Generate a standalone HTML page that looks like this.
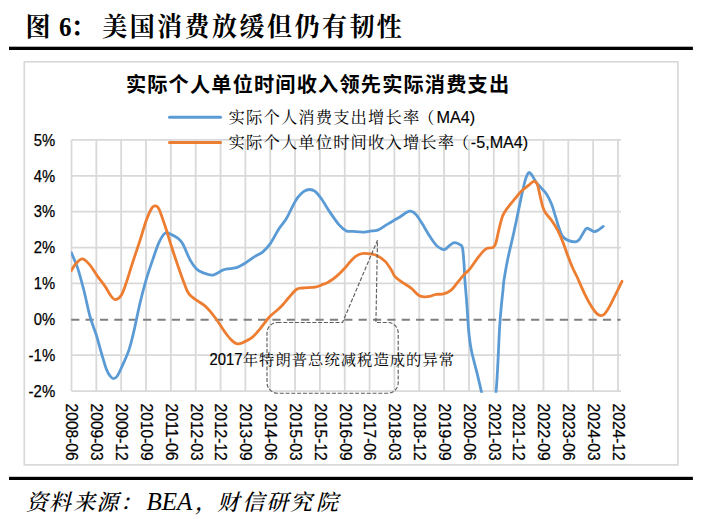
<!DOCTYPE html>
<html lang="zh-CN"><head><meta charset="utf-8"><title>图 6: 美国消费放缓但仍有韧性</title>
<style>
html,body{margin:0;padding:0;background:#fff;}
body{width:703px;height:519px;overflow:hidden;}
svg{display:block;}
.lat{font-family:"Liberation Sans",sans-serif;}
.song{font-family:"Liberation Sans","Noto Serif CJK SC",serif;}
.hei{font-family:"Liberation Sans","Noto Sans CJK SC",sans-serif;font-weight:bold;}
.kaiB{font-family:"Liberation Serif","Noto Serif CJK SC",serif;font-weight:bold;}
.kaiI{font-family:"Liberation Serif","Noto Serif CJK SC",serif;font-style:italic;font-weight:500;}
</style></head><body>
<svg width="703" height="519" viewBox="0 0 703 519">
<rect x="0" y="0" width="703" height="519" fill="#ffffff"/>
<text class="kaiB" y="35.7" font-size="25" fill="#000" transform="translate(0,35.7) scale(1,1.06) translate(0,-35.7)"><tspan x="25.5">图</tspan><tspan x="59.0">6</tspan><tspan x="70.4">：</tspan><tspan x="102.2 129.7 157.1 184.6 212.1 239.5 267.0 294.5 321.9 349.4 376.8">美国消费放缓但仍有韧性</tspan></text>
<rect x="9" y="46.7" width="683.9" height="3.3" fill="#000"/>
<rect x="9" y="476.8" width="683.9" height="3.2" fill="#000"/>
<rect x="24.3" y="61.8" width="653.6" height="403.1" fill="#fff" stroke="#d9d9d9" stroke-width="1.7"/>
<path d="M71.50,139.9 V391.1 M96.34,139.9 V391.1 M121.18,139.9 V391.1 M146.02,139.9 V391.1 M170.86,139.9 V391.1 M195.70,139.9 V391.1 M220.54,139.9 V391.1 M245.38,139.9 V391.1 M270.22,139.9 V391.1 M295.06,139.9 V391.1 M319.90,139.9 V391.1 M344.74,139.9 V391.1 M369.58,139.9 V391.1 M394.42,139.9 V391.1 M419.26,139.9 V391.1 M444.10,139.9 V391.1 M468.94,139.9 V391.1 M493.78,139.9 V391.1 M518.62,139.9 V391.1 M543.46,139.9 V391.1 M568.30,139.9 V391.1 M593.14,139.9 V391.1 M617.98,139.9 V391.1 M71.5,139.90 H621.0 M71.5,175.78 H621.0 M71.5,211.66 H621.0 M71.5,247.54 H621.0 M71.5,283.42 H621.0 M71.5,355.18 H621.0 M71.5,391.06 H621.0" fill="none" stroke="#d9d9d9" stroke-width="1.8"/>
<path d="M71.2,319.65 H620.6" fill="none" stroke="#7f7f7f" stroke-width="2" stroke-dasharray="8.2 6.17"/>
<text class="hei"  x="125.9" y="92" font-size="20.2" fill="#000" textLength="383.2" lengthAdjust="spacing">实际个人单位时间收入领先实际消费支出</text>
<defs><clipPath id="pc"><rect x="71.1" y="137.9" width="555.5" height="254.8"/></clipPath></defs>
<g clip-path="url(#pc)" fill="none" stroke-width="2.8" stroke-linecap="round" stroke-linejoin="round">
<path d="M71.3,252.6 C72.3,255.1 75.4,261.4 77.5,267.6 C79.6,273.8 81.7,281.9 83.8,290.0 C85.9,298.1 87.9,309.0 90.0,316.5 C92.1,324.0 94.4,329.0 96.3,335.0 C98.2,341.0 99.6,347.0 101.3,352.6 C103.0,358.2 104.8,365.0 106.3,368.9 C107.8,372.8 108.9,374.4 110.1,376.0 C111.3,377.6 112.3,378.6 113.5,378.6 C114.7,378.6 115.8,378.2 117.3,376.0 C118.8,373.8 120.7,369.4 122.6,365.1 C124.5,360.8 127.0,355.7 128.9,350.1 C130.8,344.5 132.5,337.3 133.9,331.3 C135.3,325.3 136.4,319.4 137.6,314.0 C138.8,308.6 139.5,304.9 141.0,299.0 C142.5,293.1 144.5,285.4 146.4,278.9 C148.3,272.4 150.5,266.2 152.6,260.1 C154.7,254.1 156.8,247.1 158.9,242.6 C161.0,238.1 163.1,234.4 165.2,233.1 C167.3,231.8 169.3,233.8 171.4,234.6 C173.5,235.4 175.8,236.6 177.7,238.1 C179.6,239.6 180.6,240.1 182.7,243.8 C184.8,247.5 187.9,255.9 190.2,260.1 C192.5,264.3 194.4,266.8 196.5,268.9 C198.6,271.0 200.0,271.6 202.7,272.6 C205.4,273.6 209.4,275.5 212.7,275.1 C216.0,274.7 220.2,271.1 222.7,270.1 C225.2,269.1 225.2,269.3 227.5,268.9 C229.8,268.5 233.4,268.6 236.3,267.7 C239.2,266.8 241.9,265.1 245.0,263.2 C248.1,261.3 252.1,258.2 255.0,256.4 C257.9,254.5 260.1,254.2 262.6,252.1 C265.1,250.0 267.4,247.8 270.1,243.9 C272.8,240.0 276.1,233.1 278.8,228.9 C281.5,224.7 284.0,222.6 286.3,218.8 C288.6,215.0 290.7,209.8 292.6,206.3 C294.5,202.8 295.7,200.1 297.6,197.6 C299.5,195.1 301.9,192.7 303.9,191.3 C305.9,190.0 307.7,189.5 309.6,189.5 C311.5,189.5 313.1,189.8 315.1,191.3 C317.1,192.9 318.9,195.2 321.4,198.8 C323.9,202.4 327.3,208.3 330.2,212.6 C333.1,216.9 336.2,221.5 338.9,224.6 C341.6,227.7 344.1,229.8 346.4,230.9 C348.7,232.0 350.0,231.2 352.7,231.4 C355.4,231.6 359.8,232.2 362.7,232.1 C365.6,232.0 367.7,231.4 370.2,231.1 C372.7,230.8 375.2,231.0 377.7,230.1 C380.2,229.2 383.4,226.7 385.2,225.6 C387.0,224.5 386.3,224.9 388.5,223.6 C390.7,222.3 395.4,219.7 398.5,217.8 C401.6,215.9 405.1,213.1 407.3,212.0 C409.5,210.9 410.1,210.9 411.6,211.3 C413.1,211.7 414.3,212.5 416.1,214.6 C417.9,216.7 420.0,220.2 422.3,223.8 C424.6,227.4 427.5,232.8 429.8,236.3 C432.1,239.9 434.1,243.0 436.1,245.1 C438.1,247.2 440.1,248.2 441.6,248.9 C443.1,249.6 443.7,249.8 444.9,249.4 C446.1,249.0 447.4,247.3 448.6,246.3 C449.9,245.3 451.3,244.0 452.4,243.4 C453.5,242.8 453.8,242.4 455.0,242.6 C456.2,242.8 458.3,243.6 459.5,244.4 C460.7,245.2 461.7,244.7 462.4,247.6 C463.1,250.5 463.5,256.6 463.9,262.0 C464.3,267.4 464.5,274.5 464.9,280.2 C465.3,285.9 465.8,290.7 466.2,296.0 C466.6,301.3 467.0,306.3 467.4,312.0 C467.8,317.7 468.0,323.6 468.6,330.0 C469.2,336.4 470.0,343.4 471.3,350.1 C472.6,356.8 474.9,364.5 476.3,370.1 C477.7,375.7 478.7,380.1 479.6,383.9 C480.5,387.7 480.8,388.7 481.6,392.7 C482.4,396.7 483.3,400.1 484.5,408.0 C485.7,415.9 487.3,440.0 488.8,440.0 C490.3,440.0 492.3,415.9 493.5,408.0 C494.7,400.1 495.3,397.8 495.9,392.7 C496.5,387.6 496.7,384.3 497.1,377.6 C497.5,370.9 498.0,360.9 498.4,352.6 C498.8,344.3 499.1,335.5 499.6,327.6 C500.1,319.7 500.8,311.3 501.4,305.0 C502.0,298.7 502.6,294.2 503.0,290.0 C503.4,285.8 503.2,285.0 504.0,280.0 C504.8,275.0 505.9,268.1 507.5,260.2 C509.1,252.3 511.7,242.2 513.8,232.6 C515.9,223.0 518.3,210.9 520.1,202.6 C521.9,194.2 523.4,187.1 524.6,182.5 C525.8,177.9 526.3,176.7 527.1,175.0 C527.9,173.3 528.5,172.5 529.3,172.5 C530.1,172.5 530.6,173.3 531.8,175.0 C533.0,176.7 534.7,180.3 536.3,182.5 C537.9,184.7 539.6,186.2 541.3,188.1 C543.0,190.0 544.6,191.2 546.3,193.8 C548.0,196.4 549.9,200.2 551.4,203.8 C552.9,207.4 553.9,211.1 555.1,215.1 C556.4,219.1 557.6,224.0 558.9,227.6 C560.1,231.2 561.1,234.3 562.6,236.4 C564.1,238.5 565.5,239.2 567.6,240.1 C569.7,241.0 573.2,241.9 575.1,241.9 C577.0,241.9 577.6,241.4 578.9,240.1 C580.2,238.8 581.5,235.8 582.7,233.9 C584.0,232.0 585.1,229.1 586.4,228.4 C587.6,227.7 588.9,229.1 590.2,229.6 C591.5,230.1 593.0,231.6 594.4,231.6 C595.8,231.6 597.4,230.5 598.9,229.6 C600.4,228.7 602.5,226.9 603.2,226.4" stroke="#5b9bd5"/>
<path d="M71.3,270.6 C72.1,269.4 74.1,265.4 76.0,263.5 C77.9,261.6 80.2,258.6 82.5,258.9 C84.8,259.2 87.5,262.2 90.0,265.1 C92.5,268.0 95.1,272.8 97.6,276.4 C100.1,279.9 102.8,283.1 105.1,286.4 C107.4,289.7 109.5,294.2 111.3,296.4 C113.0,298.6 113.9,299.8 115.6,299.6 C117.3,299.4 119.5,298.0 121.3,295.2 C123.1,292.4 124.4,288.0 126.3,282.6 C128.2,277.2 130.3,269.7 132.6,262.6 C134.9,255.5 137.8,247.2 140.1,240.1 C142.4,233.0 144.5,225.2 146.4,220.0 C148.3,214.8 150.0,211.2 151.4,208.8 C152.8,206.4 153.8,205.8 155.1,205.8 C156.3,205.8 157.2,205.4 158.9,208.8 C160.6,212.2 163.1,220.1 165.2,226.3 C167.3,232.6 169.3,239.8 171.4,246.3 C173.5,252.8 175.6,259.1 177.7,265.1 C179.8,271.2 182.0,277.8 183.9,282.6 C185.8,287.4 186.8,291.0 188.9,293.9 C191.0,296.8 194.0,298.3 196.5,300.2 C199.0,302.1 201.7,303.3 204.0,305.2 C206.3,307.1 207.9,308.7 210.2,311.4 C212.5,314.1 215.2,317.8 217.7,321.3 C220.2,324.8 223.0,329.5 225.3,332.6 C227.6,335.7 229.4,338.2 231.5,340.1 C233.6,342.0 235.5,343.6 237.6,343.9 C239.7,344.2 241.3,343.2 243.8,342.1 C246.3,341.0 249.9,339.3 252.6,337.1 C255.3,334.9 257.2,332.3 260.1,328.8 C263.0,325.3 266.8,319.8 270.1,316.3 C273.4,312.8 277.0,310.7 280.1,307.6 C283.2,304.5 286.2,300.5 288.9,297.5 C291.6,294.5 294.1,291.1 296.4,289.5 C298.7,287.9 299.6,288.4 302.7,288.0 C305.8,287.6 311.8,287.7 315.1,287.1 C318.4,286.5 320.6,285.2 322.7,284.4 C324.8,283.6 325.4,283.8 327.7,282.5 C330.0,281.2 333.5,278.9 336.4,276.4 C339.3,273.9 342.5,270.6 345.2,267.7 C347.9,264.8 350.4,261.1 352.7,258.9 C355.0,256.7 357.1,255.5 359.0,254.6 C360.9,253.7 362.1,253.5 364.0,253.4 C365.9,253.3 367.9,253.5 370.2,253.9 C372.5,254.3 375.2,254.7 377.7,255.9 C380.2,257.1 382.9,259.0 385.2,261.4 C387.5,263.8 389.9,267.7 391.5,270.2 C393.1,272.7 393.2,274.5 394.8,276.4 C396.4,278.3 398.3,279.4 401.0,281.4 C403.7,283.4 408.2,285.9 411.1,288.2 C414.0,290.5 416.3,293.8 418.6,295.2 C420.9,296.6 422.9,296.7 424.8,296.9 C426.7,297.1 427.9,296.8 429.8,296.4 C431.7,296.0 433.8,294.8 436.1,294.4 C438.4,294.0 441.1,294.6 443.6,293.9 C446.1,293.2 448.8,292.1 451.1,290.2 C453.4,288.3 455.3,285.2 457.4,282.7 C459.5,280.2 461.5,277.4 463.6,275.1 C465.7,272.8 467.8,271.4 469.9,268.9 C472.0,266.4 474.1,262.9 476.2,260.1 C478.3,257.3 480.5,254.1 482.4,252.1 C484.3,250.1 485.6,249.1 487.4,248.3 C489.2,247.5 491.9,248.3 493.3,247.3 C494.7,246.3 495.1,245.4 496.0,242.5 C496.9,239.6 497.7,234.5 498.8,230.1 C499.9,225.7 501.2,219.7 502.5,216.3 C503.8,212.9 504.4,212.3 506.3,209.6 C508.2,206.9 511.3,203.1 513.8,200.1 C516.3,197.1 518.8,193.8 521.3,191.3 C523.8,188.8 526.7,186.8 528.8,185.1 C530.9,183.4 532.4,181.5 533.8,181.3 C535.2,181.1 536.1,181.9 537.1,184.0 C538.1,186.1 538.7,190.1 539.6,193.8 C540.5,197.5 541.6,203.1 542.6,206.3 C543.6,209.5 544.1,210.8 545.6,213.1 C547.1,215.4 549.4,217.3 551.4,220.1 C553.4,222.9 555.7,226.5 557.6,230.1 C559.5,233.7 560.9,237.2 562.6,241.4 C564.3,245.6 565.9,250.8 567.6,255.2 C569.3,259.6 571.0,264.1 572.6,267.7 C574.2,271.3 575.1,272.6 577.1,277.0 C579.1,281.4 582.1,288.7 584.6,293.8 C587.1,298.9 590.0,304.2 592.1,307.6 C594.2,311.0 595.6,312.6 597.1,313.9 C598.6,315.2 599.6,315.6 600.9,315.6 C602.1,315.6 603.1,315.4 604.6,313.9 C606.1,312.4 607.7,309.8 609.6,306.4 C611.5,303.0 613.8,298.0 615.9,293.8 C618.0,289.6 621.0,283.4 622.0,281.3" stroke="#ed7d31"/>
</g>
<path d="M169.5,117.2 H220.5" stroke="#5b9bd5" stroke-width="3" stroke-linecap="round" fill="none"/>
<path d="M169.5,142.4 H220.5" stroke="#ed7d31" stroke-width="3" stroke-linecap="round" fill="none"/>
<text class="song" x="228.6" y="122.9" font-size="16.3" letter-spacing="1.15" fill="#000">实际个人消费支出增长率<tspan dx="-2.2">（</tspan></text>
<text class="lat" x="436.4" y="123" font-size="16.4" fill="#000" stroke="#000" stroke-width="0.15" textLength="38.8" lengthAdjust="spacingAndGlyphs">MA4)</text>
<text class="song" x="228.6" y="148.1" font-size="16.3" letter-spacing="1.15" fill="#000">实际个人单位时间收入增长率<tspan dx="-2.2">（</tspan></text>
<text class="lat" x="470.8" y="148.2" font-size="16.4" fill="#000" stroke="#000" stroke-width="0.15" textLength="57.4" lengthAdjust="spacingAndGlyphs">-5,MA4)</text>
<text class="lat" x="33.8" y="145.6" font-size="16" fill="#000" stroke="#000" stroke-width="0.25" textLength="21.4" lengthAdjust="spacingAndGlyphs">5%</text>
<text class="lat" x="33.8" y="181.5" font-size="16" fill="#000" stroke="#000" stroke-width="0.25" textLength="21.4" lengthAdjust="spacingAndGlyphs">4%</text>
<text class="lat" x="33.8" y="217.4" font-size="16" fill="#000" stroke="#000" stroke-width="0.25" textLength="21.4" lengthAdjust="spacingAndGlyphs">3%</text>
<text class="lat" x="33.8" y="253.2" font-size="16" fill="#000" stroke="#000" stroke-width="0.25" textLength="21.4" lengthAdjust="spacingAndGlyphs">2%</text>
<text class="lat" x="33.8" y="289.1" font-size="16" fill="#000" stroke="#000" stroke-width="0.25" textLength="21.4" lengthAdjust="spacingAndGlyphs">1%</text>
<text class="lat" x="33.8" y="325.0" font-size="16" fill="#000" stroke="#000" stroke-width="0.25" textLength="21.4" lengthAdjust="spacingAndGlyphs">0%</text>
<text class="lat" x="28.6" y="360.9" font-size="16" fill="#000" stroke="#000" stroke-width="0.25" textLength="26.6" lengthAdjust="spacingAndGlyphs">-1%</text>
<text class="lat" x="28.6" y="396.8" font-size="16" fill="#000" stroke="#000" stroke-width="0.25" textLength="26.6" lengthAdjust="spacingAndGlyphs">-2%</text>
<text class="lat" font-size="17.2" fill="#000" stroke="#000" stroke-width="0.25" transform="translate(66.3,403.6) rotate(90)" textLength="57" lengthAdjust="spacingAndGlyphs">2008-06</text>
<text class="lat" font-size="17.2" fill="#000" stroke="#000" stroke-width="0.25" transform="translate(91.1,403.6) rotate(90)" textLength="57" lengthAdjust="spacingAndGlyphs">2009-03</text>
<text class="lat" font-size="17.2" fill="#000" stroke="#000" stroke-width="0.25" transform="translate(116.0,403.6) rotate(90)" textLength="57" lengthAdjust="spacingAndGlyphs">2009-12</text>
<text class="lat" font-size="17.2" fill="#000" stroke="#000" stroke-width="0.25" transform="translate(140.8,403.6) rotate(90)" textLength="57" lengthAdjust="spacingAndGlyphs">2010-09</text>
<text class="lat" font-size="17.2" fill="#000" stroke="#000" stroke-width="0.25" transform="translate(165.7,403.6) rotate(90)" textLength="57" lengthAdjust="spacingAndGlyphs">2011-06</text>
<text class="lat" font-size="17.2" fill="#000" stroke="#000" stroke-width="0.25" transform="translate(190.5,403.6) rotate(90)" textLength="57" lengthAdjust="spacingAndGlyphs">2012-03</text>
<text class="lat" font-size="17.2" fill="#000" stroke="#000" stroke-width="0.25" transform="translate(215.3,403.6) rotate(90)" textLength="57" lengthAdjust="spacingAndGlyphs">2012-12</text>
<text class="lat" font-size="17.2" fill="#000" stroke="#000" stroke-width="0.25" transform="translate(240.2,403.6) rotate(90)" textLength="57" lengthAdjust="spacingAndGlyphs">2013-09</text>
<text class="lat" font-size="17.2" fill="#000" stroke="#000" stroke-width="0.25" transform="translate(265.0,403.6) rotate(90)" textLength="57" lengthAdjust="spacingAndGlyphs">2014-06</text>
<text class="lat" font-size="17.2" fill="#000" stroke="#000" stroke-width="0.25" transform="translate(289.9,403.6) rotate(90)" textLength="57" lengthAdjust="spacingAndGlyphs">2015-03</text>
<text class="lat" font-size="17.2" fill="#000" stroke="#000" stroke-width="0.25" transform="translate(314.7,403.6) rotate(90)" textLength="57" lengthAdjust="spacingAndGlyphs">2015-12</text>
<text class="lat" font-size="17.2" fill="#000" stroke="#000" stroke-width="0.25" transform="translate(339.5,403.6) rotate(90)" textLength="57" lengthAdjust="spacingAndGlyphs">2016-09</text>
<text class="lat" font-size="17.2" fill="#000" stroke="#000" stroke-width="0.25" transform="translate(364.4,403.6) rotate(90)" textLength="57" lengthAdjust="spacingAndGlyphs">2017-06</text>
<text class="lat" font-size="17.2" fill="#000" stroke="#000" stroke-width="0.25" transform="translate(389.2,403.6) rotate(90)" textLength="57" lengthAdjust="spacingAndGlyphs">2018-03</text>
<text class="lat" font-size="17.2" fill="#000" stroke="#000" stroke-width="0.25" transform="translate(414.1,403.6) rotate(90)" textLength="57" lengthAdjust="spacingAndGlyphs">2018-12</text>
<text class="lat" font-size="17.2" fill="#000" stroke="#000" stroke-width="0.25" transform="translate(438.9,403.6) rotate(90)" textLength="57" lengthAdjust="spacingAndGlyphs">2019-09</text>
<text class="lat" font-size="17.2" fill="#000" stroke="#000" stroke-width="0.25" transform="translate(463.7,403.6) rotate(90)" textLength="57" lengthAdjust="spacingAndGlyphs">2020-06</text>
<text class="lat" font-size="17.2" fill="#000" stroke="#000" stroke-width="0.25" transform="translate(488.6,403.6) rotate(90)" textLength="57" lengthAdjust="spacingAndGlyphs">2021-03</text>
<text class="lat" font-size="17.2" fill="#000" stroke="#000" stroke-width="0.25" transform="translate(513.4,403.6) rotate(90)" textLength="57" lengthAdjust="spacingAndGlyphs">2021-12</text>
<text class="lat" font-size="17.2" fill="#000" stroke="#000" stroke-width="0.25" transform="translate(538.3,403.6) rotate(90)" textLength="57" lengthAdjust="spacingAndGlyphs">2022-09</text>
<text class="lat" font-size="17.2" fill="#000" stroke="#000" stroke-width="0.25" transform="translate(563.1,403.6) rotate(90)" textLength="57" lengthAdjust="spacingAndGlyphs">2023-06</text>
<text class="lat" font-size="17.2" fill="#000" stroke="#000" stroke-width="0.25" transform="translate(587.9,403.6) rotate(90)" textLength="57" lengthAdjust="spacingAndGlyphs">2024-03</text>
<text class="lat" font-size="17.2" fill="#000" stroke="#000" stroke-width="0.25" transform="translate(612.8,403.6) rotate(90)" textLength="57" lengthAdjust="spacingAndGlyphs">2024-12</text>
<path d="M277.5,322.5 H342.5 L377.5,240.2 L375.9,322.5 H387.7 A10.5,10.5 0 0 1 398.2,333.0 V382.7 A10.5,10.5 0 0 1 387.7,393.2 H277.5 A10.5,10.5 0 0 1 267.0,382.7 V333.0 A10.5,10.5 0 0 1 277.5,322.5 Z" fill="none" stroke="#5e5e5e" stroke-width="1.15" stroke-dasharray="4 1.8"/>
<text class="lat" x="209.6" y="364.8" font-size="15.8" fill="#000" stroke="#000" stroke-width="0.22" textLength="33" lengthAdjust="spacingAndGlyphs">2017</text>
<text class="song" x="242.8" y="364.6" font-size="15.3" letter-spacing="1.03" fill="#000">年特朗普总统减税造成的异常</text>
<text class="kaiI" y="509.8" font-size="22" fill="#000"><tspan x="25.7 49.0 73.3 96.3">资料来源</tspan><tspan x="120">：</tspan><tspan x="146.5" font-size="25">BEA</tspan><tspan x="195">，</tspan><tspan x="217.2 242.2 266.3 290.1 316.0">财信研究院</tspan></text>
</svg>
</body></html>
